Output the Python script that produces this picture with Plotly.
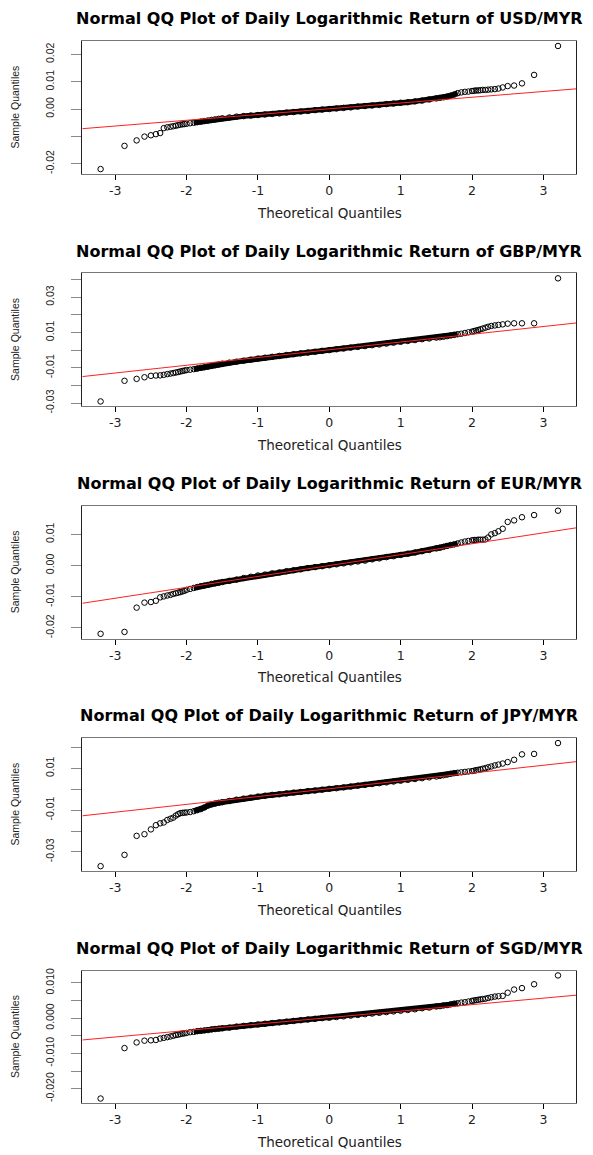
import plotly.graph_objects as go

# ---------------- data ----------------
CURRENCIES = ["USD/MYR", "GBP/MYR", "EUR/MYR", "JPY/MYR", "SGD/MYR"]

# theoretical quantiles (x positions of the plotted sample quantiles)
THEO_LEFT = [-3.205, -2.870, -2.700, -2.590, -2.500, -2.430, -2.370, -2.320,
             -2.270, -2.226, -2.187, -2.150, -2.117, -2.087, -2.057, -2.030]
THEO_BAND = [-2.00, -1.95, -1.90, -1.85, -1.80, -1.75, -1.70, -1.65, -1.60, -1.55,
             -1.50, -1.40, -1.30, -1.20, -1.10, -1.00, -0.90, -0.80, -0.70, -0.60,
             -0.50, -0.40, -0.30, -0.20, -0.10, 0.00, 0.10, 0.20, 0.30, 0.40,
             0.50, 0.60, 0.70, 0.80, 0.90, 1.00, 1.10, 1.20, 1.30, 1.40,
             1.50, 1.55, 1.60, 1.65, 1.70, 1.75, 1.80, 1.85, 1.90, 1.95, 2.00]
THEO_RIGHT = [2.030, 2.057, 2.087, 2.117, 2.150, 2.187, 2.226, 2.270,
              2.320, 2.370, 2.430, 2.500, 2.590, 2.700, 2.870, 3.205]

USD_Q = [-0.0220, -0.0135, -0.0115, -0.0101, -0.0096, -0.0092, -0.0088, -0.0070,
         -0.0067, -0.0065, -0.0063, -0.0061, -0.0059, -0.0057, -0.0056, -0.0055,
         -0.0054, -0.0052, -0.0050, -0.0048, -0.0046, -0.0044, -0.0042, -0.0040, -0.0038, -0.0036,
         -0.0034, -0.0031, -0.0028, -0.0026, -0.0024, -0.0022, -0.0020, -0.0018, -0.0016, -0.0013,
         -0.0011, -0.0009, -0.0007, -0.0004, -0.0002, 0.0000, 0.0002, 0.0004, 0.0006, 0.0009,
         0.0011, 0.0013, 0.0015, 0.0018, 0.0020, 0.0023, 0.0025, 0.0028, 0.0031, 0.0035,
         0.0039, 0.0041, 0.0043, 0.0046, 0.0049, 0.0053, 0.0058, 0.0061, 0.0063, 0.0064, 0.0066,
         0.0067, 0.0068, 0.0068, 0.0069, 0.0070, 0.0070, 0.0071, 0.0072,
         0.0073, 0.0075, 0.0079, 0.0084, 0.0086, 0.0094, 0.0125, 0.0231]
GBP_Q = [-0.0291, -0.0174, -0.0163, -0.0154, -0.0146, -0.0144, -0.0143, -0.0140,
         -0.0136, -0.0133, -0.0130, -0.0127, -0.0124, -0.0121, -0.0118, -0.0116,
         -0.0113, -0.0111, -0.0108, -0.0104, -0.0100, -0.0097, -0.0093, -0.0089, -0.0085, -0.0081,
         -0.0077, -0.0071, -0.0066, -0.0060, -0.0054, -0.0048, -0.0043, -0.0038, -0.0033, -0.0028,
         -0.0023, -0.0018, -0.0014, -0.0009, -0.0004, 0.0000, 0.0005, 0.0009, 0.0014, 0.0018,
         0.0023, 0.0028, 0.0032, 0.0037, 0.0042, 0.0047, 0.0052, 0.0057, 0.0062, 0.0066,
         0.0071, 0.0073, 0.0076, 0.0079, 0.0083, 0.0087, 0.0090, 0.0093, 0.0097, 0.0101, 0.0105,
         0.0108, 0.0111, 0.0114, 0.0118, 0.0122, 0.0127, 0.0132, 0.0137,
         0.0140, 0.0143, 0.0146, 0.0150, 0.0152, 0.0152, 0.0152, 0.0407]
EUR_Q = [-0.0219, -0.0213, -0.0135, -0.0119, -0.0117, -0.0113, -0.0102, -0.0099,
         -0.0096, -0.0094, -0.0091, -0.0089, -0.0087, -0.0085, -0.0083, -0.0081,
         -0.0078, -0.0075, -0.0072, -0.0069, -0.0066, -0.0064, -0.0062, -0.0059, -0.0057, -0.0055,
         -0.0053, -0.0049, -0.0045, -0.0040, -0.0036, -0.0032, -0.0029, -0.0025, -0.0022, -0.0018,
         -0.0015, -0.0012, -0.0008, -0.0005, -0.0002, 0.0001, 0.0004, 0.0007, 0.0010, 0.0013,
         0.0016, 0.0020, 0.0023, 0.0027, 0.0030, 0.0034, 0.0038, 0.0042, 0.0046, 0.0050,
         0.0055, 0.0057, 0.0060, 0.0063, 0.0066, 0.0068, 0.0071, 0.0074, 0.0077, 0.0079, 0.0081,
         0.0082, 0.0082, 0.0083, 0.0083, 0.0083, 0.0084, 0.0090, 0.0100,
         0.0104, 0.0110, 0.0118, 0.0140, 0.0145, 0.0155, 0.0162, 0.0176]
JPY_Q = [-0.0368, -0.0314, -0.0223, -0.0215, -0.0192, -0.0172, -0.0163, -0.0159,
         -0.0147, -0.0141, -0.0136, -0.0126, -0.0119, -0.0114, -0.0113, -0.0112,
         -0.0111, -0.0109, -0.0105, -0.0100, -0.0095, -0.0087, -0.0078, -0.0072, -0.0068, -0.0065,
         -0.0062, -0.0056, -0.0050, -0.0045, -0.0040, -0.0035, -0.0031, -0.0027, -0.0024, -0.0020,
         -0.0016, -0.0013, -0.0009, -0.0006, -0.0002, 0.0002, 0.0005, 0.0009, 0.0013, 0.0017,
         0.0021, 0.0025, 0.0029, 0.0033, 0.0037, 0.0041, 0.0045, 0.0049, 0.0053, 0.0057,
         0.0061, 0.0064, 0.0067, 0.0070, 0.0074, 0.0077, 0.0079, 0.0081, 0.0083, 0.0085, 0.0087,
         0.0089, 0.0091, 0.0093, 0.0095, 0.0098, 0.0101, 0.0105, 0.0109,
         0.0114, 0.0118, 0.0123, 0.0130, 0.0141, 0.0167, 0.0169, 0.0221]
SGD_Q = [-0.0228, -0.0085, -0.0069, -0.0064, -0.0063, -0.0062, -0.0058, -0.0056,
         -0.0054, -0.0052, -0.0050, -0.0048, -0.0047, -0.0045, -0.0044, -0.0043,
         -0.0042, -0.0040, -0.0039, -0.0037, -0.0036, -0.0035, -0.0034, -0.0032, -0.0031, -0.0030,
         -0.0029, -0.0027, -0.0024, -0.0022, -0.0020, -0.0018, -0.0016, -0.0014, -0.0012, -0.0010,
         -0.0008, -0.0006, -0.0004, -0.0002, 0.0000, 0.0001, 0.0003, 0.0005, 0.0007, 0.0009,
         0.0011, 0.0013, 0.0015, 0.0017, 0.0019, 0.0021, 0.0023, 0.0025, 0.0028, 0.0030,
         0.0033, 0.0034, 0.0036, 0.0037, 0.0039, 0.0041, 0.0042, 0.0044, 0.0045, 0.0047, 0.0049,
         0.0050, 0.0051, 0.0052, 0.0053, 0.0054, 0.0055, 0.0057, 0.0059,
         0.0061, 0.0062, 0.0063, 0.0072, 0.0081, 0.0085, 0.0096, 0.0121]

# reference (qqline) end points, at the plot-region edges
QQLINE_T = [-3.46, 3.46]
USD_LINE = [-0.0072, 0.0074]
GBP_LINE = [-0.0150, 0.0154]
EUR_LINE = [-0.0121, 0.0121]
JPY_LINE = [-0.0127, 0.0132]
SGD_LINE = [-0.0062, 0.0065]

X_TICKS = [-3, -2, -1, 0, 1, 2, 3]
USD_YTICKS = [-0.02, -0.01, 0.00, 0.01, 0.02]
USD_YLABELS = ["-0.02", "", "0.00", "0.01", "0.02"]
GBP_YTICKS = [-0.03, -0.02, -0.01, 0.00, 0.01, 0.02, 0.03, 0.04]
GBP_YLABELS = ["-0.03", "", "-0.01", "", "0.01", "", "0.03", ""]
EUR_YTICKS = [-0.02, -0.01, 0.00, 0.01]
EUR_YLABELS = ["-0.02", "-0.01", "0.00", "0.01"]
JPY_YTICKS = [-0.03, -0.02, -0.01, 0.00, 0.01, 0.02]
JPY_YLABELS = ["-0.03", "", "-0.01", "", "0.01", ""]
SGD_YTICKS = [-0.020, -0.015, -0.010, -0.005, 0.000, 0.005, 0.010]
SGD_YLABELS = ["-0.020", "", "-0.010", "", "0.000", "", "0.010"]

# ---------------- figure ----------------
OFF = 8  # default page margin of the html body
W, H = 593 - OFF, 1155 - OFF
PLOT_L, PLOT_R = 82.3 - OFF, 576.3 - OFF
FIRST_TOP, STEP, PH = 39.3 - OFF, 234.2, 134.0

THEO = THEO_LEFT + THEO_BAND + THEO_RIGHT
panels = [
    (CURRENCIES[0], USD_Q, USD_LINE, USD_YTICKS, USD_YLABELS),
    (CURRENCIES[1], GBP_Q, GBP_LINE, GBP_YTICKS, GBP_YLABELS),
    (CURRENCIES[2], EUR_Q, EUR_LINE, EUR_YTICKS, EUR_YLABELS),
    (CURRENCIES[3], JPY_Q, JPY_LINE, JPY_YTICKS, JPY_YLABELS),
    (CURRENCIES[4], SGD_Q, SGD_LINE, SGD_YTICKS, SGD_YLABELS),
]

fig = go.Figure()
annotations = []
xd = [PLOT_L / W, PLOT_R / W]
xc = (xd[0] + xd[1]) / 2
tmin, tmax = min(THEO), max(THEO)
xr = [tmin - 0.04 * (tmax - tmin), tmax + 0.04 * (tmax - tmin)]

layout_axes = {}
for k, (cur, q, line_y, yt, yl) in enumerate(panels):
    sfx = "" if k == 0 else str(k + 1)
    xa, ya = "x" + sfx, "y" + sfx
    top = FIRST_TOP + k * STEP
    bot = top + PH
    yd = [1 - bot / H, 1 - top / H]

    band_t = [t for t in THEO if -1.9 <= t <= 1.8]
    band_q = [v for t, v in zip(THEO, q) if -1.9 <= t <= 1.8]
    fig.add_trace(go.Scatter(x=band_t, y=band_q, mode="lines", xaxis=xa, yaxis=ya,
                             line=dict(color="black", width=5.5), hoverinfo="skip"))
    fig.add_trace(go.Scatter(x=THEO, y=q, mode="markers", xaxis=xa, yaxis=ya,
                             marker=dict(symbol="circle-open", size=5.5, color="black",
                                         line=dict(width=1, color="black"))))
    fig.add_trace(go.Scatter(x=QQLINE_T, y=line_y, mode="lines", xaxis=xa, yaxis=ya,
                             line=dict(color="#ff2020", width=1)))

    qmin, qmax = min(q), max(q)
    yr = [qmin - 0.04 * (qmax - qmin), qmax + 0.04 * (qmax - qmin)]

    layout_axes["xaxis" + sfx] = dict(
        domain=xd, anchor=ya, range=xr, tickvals=X_TICKS, ticktext=[str(v) for v in X_TICKS],
        ticks="outside", ticklen=5, tickcolor="black", tickwidth=1,
        showline=True, mirror=True, linecolor="#777", linewidth=1,
        showgrid=False, zeroline=False,
        tickfont=dict(family="DejaVu Sans", size=12.5, color="#222"))
    layout_axes["yaxis" + sfx] = dict(
        domain=yd, anchor=xa, range=yr, tickvals=yt, ticktext=yl, tickangle=-90,
        ticks="outside", ticklen=10, tickcolor="#888", tickwidth=1,
        showline=True, mirror=True, linecolor="#222", linewidth=1,
        showgrid=False, zeroline=False, ticklabelstandoff=13,
        tickfont=dict(family="Liberation Sans", size=10.5, color="#222"))

    annotations.append(dict(
        text="Normal QQ Plot of Daily Logarithmic Return of " + cur,
        xref="paper", yref="paper", x=xc, y=1 - (top - 22.5) / H,
        xanchor="center", yanchor="middle", showarrow=False,
        font=dict(family="DejaVu Sans", size=16, color="black", weight="bold")))
    annotations.append(dict(
        text="Theoretical Quantiles", xref="paper", yref="paper",
        x=xc, y=1 - (bot + 39) / H, xanchor="center", yanchor="middle", showarrow=False,
        font=dict(family="DejaVu Sans", size=13.5, color="#222")))
    annotations.append(dict(
        text="Sample Quantiles", xref="paper", yref="paper", textangle=-90,
        x=(15 - OFF) / W, y=1 - (top + PH / 2) / H, xanchor="center", yanchor="middle",
        showarrow=False, font=dict(family="Liberation Sans", size=10.5, color="#222")))

fig.update_layout(
    width=W, height=H, autosize=False,
    margin=dict(l=0, r=0, t=0, b=0),
    paper_bgcolor="white", plot_bgcolor="white",
    showlegend=False, annotations=annotations, **layout_axes)

fig.write_html("out.html")
